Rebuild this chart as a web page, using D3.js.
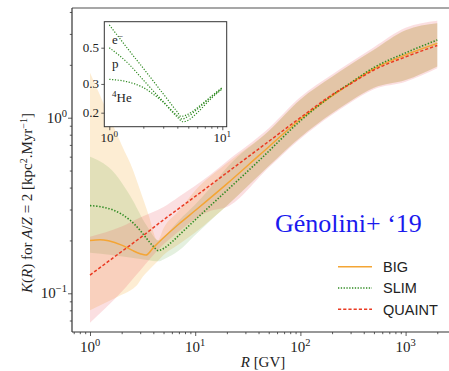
<!DOCTYPE html>
<html><head><meta charset="utf-8">
<script src="https://cdn.jsdelivr.net/npm/d3@7"></script>
<style>
html,body{margin:0;padding:0;background:#fff;}
svg{display:block;}
</style></head><body>
<svg id="chart" width="449" height="371"></svg>
<script>
// ---- Diffusion coefficient K(R) for A/Z = 2, three propagation setups ----
const bigR   = [1, 1.25, 1.5, 2, 2.5, 3, 3.4, 4, 5, 7, 10, 20, 41, 100, 200, 300, 500, 1000, 2000];
const bigK   = [0.200, 0.202, 0.199, 0.188, 0.176, 0.168, 0.165, 0.182, 0.207, 0.248, 0.296, 0.42, 0.614, 0.98, 1.33, 1.57, 1.9, 2.28, 2.65];

const slimR  = [1, 1.3, 1.66, 2, 2.4, 3, 3.5, 4, 4.46, 5, 6, 7, 10, 14, 20, 41, 100, 200, 300, 500, 1000, 2000];
const slimK  = [0.316, 0.31, 0.298, 0.282, 0.261, 0.228, 0.203, 0.185, 0.175, 0.18, 0.196, 0.214, 0.262, 0.316, 0.385, 0.574, 0.96, 1.34, 1.58, 1.93, 2.34, 2.77];

const quaintR = [1, 2, 3, 5, 10, 20, 50, 100, 200, 300, 500, 1000, 2000];
const quaintK = [0.127, 0.173, 0.207, 0.262, 0.356, 0.486, 0.733, 1.0, 1.35, 1.56, 1.87, 2.22, 2.58];

// uncertainty bands
const bigBandR  = [1, 1.5, 2, 2.6, 2.75, 3.2, 3.6, 4.4, 5, 7, 10, 20, 50, 100, 200, 300, 500, 1000, 2000];
const bigBandLo = [0.08, 0.09, 0.098, 0.107, 0.11, 0.125, 0.135, 0.152, 0.165, 0.19, 0.222, 0.315, 0.53, 0.775, 1.06, 1.245, 1.48, 1.64, 1.96];
const bigBandHi = [1.80, 1.04, 0.70, 0.493, 0.447, 0.344, 0.28, 0.2, 0.235, 0.295, 0.385, 0.55, 0.84, 1.27, 1.71, 2.01, 2.44, 3.15, 3.45];

const slimBandR  = [1, 1.6, 2.4, 3.5, 4.5, 5, 7, 10, 14, 20, 50, 100, 200, 300, 500, 1000, 2000];
const slimBandLo = [0.17, 0.165, 0.16, 0.155, 0.152, 0.156, 0.175, 0.215, 0.26, 0.315, 0.53, 0.775, 1.06, 1.245, 1.48, 1.64, 1.96];
const slimBandHi = [0.60, 0.505, 0.36, 0.24, 0.2, 0.21, 0.26, 0.32, 0.40, 0.52, 0.84, 1.27, 1.71, 2.01, 2.44, 3.15, 3.45];

const quaintBandR  = [1, 2, 3, 5, 7, 10, 14, 20, 50, 100, 200, 300, 500, 1000, 2000];
const quaintBandLo = [0.068, 0.102, 0.135, 0.19, 0.225, 0.265, 0.295, 0.31, 0.52, 0.76, 1.04, 1.22, 1.45, 1.6, 1.91];
const quaintBandHi = [0.21, 0.24, 0.27, 0.31, 0.355, 0.41, 0.475, 0.565, 0.87, 1.31, 1.76, 2.07, 2.52, 3.25, 3.57];

// inset: SLIM for different species
const insetER  = [1, 1.5, 2, 3, 4, 4.3, 5, 6, 8, 10];
const insetEK  = [0.69, 0.48, 0.374, 0.261, 0.202, 0.19, 0.196, 0.214, 0.252, 0.285];
const insetPR  = [1, 1.5, 2, 3, 4, 4.4, 5, 6, 8, 10];
const insetPK  = [0.50, 0.395, 0.317, 0.234, 0.192, 0.183, 0.19, 0.21, 0.25, 0.283];
const insetHeR = [1, 1.42, 2, 2.5, 3, 3.5, 4, 4.5, 5, 6, 8, 10];
const insetHeK = [0.32, 0.31, 0.285, 0.257, 0.232, 0.207, 0.188, 0.176, 0.18, 0.2, 0.245, 0.28];

const xMajor = [1, 10, 100, 1000];
const xMajorExp = ["0", "1", "2", "3"];
const yMajor = [0.1, 1];
const yMajorExp = ["\u22121", "0"];
const insetYTicks = [0.2, 0.3, 0.5];
const insetXMajor = [1, 10];
const insetXMajorExp = ["0", "1"];

const legendNames = ["BIG", "SLIM", "QUAINT"];

// ---- styles ----
const colBig = "#f4a534", colSlim = "#2f8a22", colQuaint = "#ea3a22";
const serif = "'Liberation Serif', 'Times New Roman', serif";

const svg = d3.select("#chart");
const area = {left: 72, top: 8, right: 449, bottom: 332};

const x = d3.scaleLog().domain([1, 1000]).range([90, 405.6]);
const y = d3.scaleLog().domain([0.1, 1]).range([293.3, 117.7]);

svg.append("defs").append("clipPath").attr("id", "clip")
  .append("rect").attr("x", area.left).attr("y", area.top)
  .attr("width", area.right - area.left).attr("height", area.bottom - area.top);

const zip3 = (r, lo, hi) => r.map((v, i) => ({r: v, lo: lo[i], hi: hi[i]}));
const zip2 = (r, k) => r.map((v, i) => ({r: v, k: k[i]}));

const band = d3.area().x(d => x(d.r)).y0(d => y(d.lo)).y1(d => y(d.hi)).curve(d3.curveMonotoneX);
const line = d3.line().x(d => x(d.r)).y(d => y(d.k)).curve(d3.curveMonotoneX);

const gp = svg.append("g").attr("clip-path", "url(#clip)");
gp.append("path").attr("d", band(zip3(bigBandR, bigBandLo, bigBandHi)))
  .attr("fill", "#f5a623").attr("fill-opacity", 0.2);
gp.append("path").attr("d", band(zip3(slimBandR, slimBandLo, slimBandHi)))
  .attr("fill", "#4a9a2a").attr("fill-opacity", 0.15);
gp.append("path").attr("d", band(zip3(quaintBandR, quaintBandLo, quaintBandHi)))
  .attr("fill", "#e8505a").attr("fill-opacity", 0.18);

gp.append("path").attr("d", line(zip2(bigR, bigK)))
  .attr("fill", "none").attr("stroke", colBig).attr("stroke-width", 1.5);
gp.append("path").attr("d", line(zip2(slimR, slimK)))
  .attr("fill", "none").attr("stroke", colSlim).attr("stroke-width", 1.6)
  .attr("stroke-dasharray", "1.4,1.7");
gp.append("path").attr("d", line(zip2(quaintR, quaintK)))
  .attr("fill", "none").attr("stroke", colQuaint).attr("stroke-width", 1.5)
  .attr("stroke-dasharray", "3.2,2");

// ---- axes ----
function minorTicks(lo, hi) {
  const out = [];
  for (let e = Math.floor(Math.log10(lo)); e <= Math.ceil(Math.log10(hi)); e++) {
    for (let m = 1; m < 10; m++) {
      const v = m * Math.pow(10, e);
      if (v >= lo && v <= hi) out.push(v);
    }
  }
  return out;
}
const xDom = [x.invert(area.left), x.invert(area.right)];
const yDom = [y.invert(area.bottom), y.invert(area.top)];

const xMinor = minorTicks(xDom[0], xDom[1]).filter(v => !xMajor.includes(v));
const yMinor = minorTicks(yDom[0], yDom[1]).filter(v => !yMajor.some(m => Math.abs(m - v) < 1e-9));

const xScaleFull = x.copy().domain(xDom).range([area.left, area.right]);
const yScaleFull = y.copy().domain(yDom).range([area.bottom, area.top]);

function styleAxis(g) {
  g.select(".domain").remove();
  g.selectAll(".tick line").attr("stroke", "#333").attr("stroke-width", 0.8);
}
svg.append("g").attr("transform", `translate(0,${area.bottom})`)
  .call(d3.axisBottom(xScaleFull).tickValues(xMajor).tickSize(4).tickFormat(() => "")).call(styleAxis);
svg.append("g").attr("transform", `translate(0,${area.bottom})`)
  .call(d3.axisBottom(xScaleFull).tickValues(xMinor).tickSize(2.2).tickFormat(() => "")).call(styleAxis);
svg.append("g").attr("transform", `translate(${area.left},0)`)
  .call(d3.axisLeft(yScaleFull).tickValues(yMajor).tickSize(4).tickFormat(() => "")).call(styleAxis);
svg.append("g").attr("transform", `translate(${area.left},0)`)
  .call(d3.axisLeft(yScaleFull).tickValues(yMinor).tickSize(2.2).tickFormat(() => "")).call(styleAxis);

// spines
svg.append("line").attr("x1", area.left).attr("x2", area.right).attr("y1", area.top).attr("y2", area.top)
  .attr("stroke", "#8a8a8a").attr("stroke-width", 1.3);
svg.append("line").attr("x1", area.left).attr("x2", area.left).attr("y1", area.top).attr("y2", area.bottom)
  .attr("stroke", "#333").attr("stroke-width", 1.2);
svg.append("line").attr("x1", area.left).attr("x2", area.right).attr("y1", area.bottom).attr("y2", area.bottom)
  .attr("stroke", "#333").attr("stroke-width", 1.2);

// power-of-ten labels
function powLabel(sel, exp, size) {
  sel.append("tspan").text("10");
  sel.append("tspan").attr("dy", -size * 0.4).attr("font-size", size * 0.7).text(exp);
}
xMajor.forEach((v, i) => {
  const t = svg.append("text").attr("x", x(v)).attr("y", 352).attr("text-anchor", "middle")
    .attr("font-family", serif).attr("font-size", 15).attr("fill", "#222");
  powLabel(t, xMajorExp[i], 15);
});
yMajor.forEach((v, i) => {
  const t = svg.append("text").attr("x", 67).attr("y", y(v) + 5).attr("text-anchor", "end")
    .attr("font-family", serif).attr("font-size", 15).attr("fill", "#222");
  powLabel(t, yMajorExp[i], 15);
});

// axis titles
const xl = svg.append("text").attr("x", 263).attr("y", 367).attr("text-anchor", "middle")
  .attr("font-family", serif).attr("font-size", 15).attr("fill", "#222");
xl.append("tspan").attr("font-style", "italic").text("R");
xl.append("tspan").text(" [GV]");

const yl = svg.append("text").attr("transform", "translate(32,203) rotate(-90)")
  .attr("text-anchor", "middle").attr("font-family", serif).attr("font-size", 15).attr("fill", "#222");
yl.append("tspan").attr("font-style", "italic").text("K");
yl.append("tspan").text("(");
yl.append("tspan").attr("font-style", "italic").text("R");
yl.append("tspan").text(") for ");
yl.append("tspan").attr("font-style", "italic").text("A");
yl.append("tspan").text("/");
yl.append("tspan").attr("font-style", "italic").text("Z");
yl.append("tspan").text(" = 2 [kpc");
yl.append("tspan").attr("dy", -5).attr("font-size", 10).text("2");
yl.append("tspan").attr("dy", 5).text(".Myr");
yl.append("tspan").attr("dy", -5).attr("font-size", 10).text("\u22121");
yl.append("tspan").attr("dy", 5).text("]");

// annotation
svg.append("text").attr("x", 275).attr("y", 232).attr("font-family", serif)
  .attr("font-size", 26).attr("fill", "#1a1aee").text("Génolini+ \u201819");

// legend
const legStyles = [
  {c: colBig, dash: null, w: 1.5},
  {c: colSlim, dash: "1.3,1.5", w: 1.4},
  {c: colQuaint, dash: "3.2,2", w: 1.5}
];
const legY = [266.7, 288, 309.3];
legendNames.forEach((n, i) => {
  const s = legStyles[i];
  const l = svg.append("line").attr("x1", 338).attr("x2", 372).attr("y1", legY[i]).attr("y2", legY[i])
    .attr("stroke", s.c).attr("stroke-width", s.w);
  if (s.dash) l.attr("stroke-dasharray", s.dash);
  svg.append("text").attr("x", 383).attr("y", legY[i] + 5.2)
    .attr("font-family", "'Liberation Sans', Arial, sans-serif").attr("font-size", 14.5)
    .attr("fill", "#222").text(n);
});

// ---- inset ----
const ins = {left: 104.3, right: 226.7, top: 21.7, bottom: 126.7};
const xi = d3.scaleLog().domain([1, 10]).range([109.3, 222.3]);
const yi = d3.scaleLog().domain([0.2, 0.5]).range([112.7, 47.7]);
const gi = svg.append("g");
gi.append("rect").attr("x", ins.left).attr("y", ins.top).attr("width", ins.right - ins.left)
  .attr("height", ins.bottom - ins.top).attr("fill", "#fff");
svg.append("defs").append("clipPath").attr("id", "clipi")
  .append("rect").attr("x", ins.left).attr("y", ins.top).attr("width", ins.right - ins.left)
  .attr("height", ins.bottom - ins.top);
const lineI = d3.line().x(d => xi(d.r)).y(d => yi(d.k)).curve(d3.curveMonotoneX);
const gic = gi.append("g").attr("clip-path", "url(#clipi)");
[[insetER, insetEK], [insetPR, insetPK], [insetHeR, insetHeK]].forEach(([r, k]) => {
  gic.append("path").attr("d", lineI(zip2(r, k))).attr("fill", "none")
    .attr("stroke", colSlim).attr("stroke-width", 1.2).attr("stroke-dasharray", "1.2,1.6");
});
gi.append("rect").attr("x", ins.left).attr("y", ins.top).attr("width", ins.right - ins.left)
  .attr("height", ins.bottom - ins.top).attr("fill", "none").attr("stroke", "#333").attr("stroke-width", 1);

const xiFull = xi.copy().domain([xi.invert(ins.left), xi.invert(ins.right)]).range([ins.left, ins.right]);
const xiMinor = minorTicks(xi.invert(ins.left), xi.invert(ins.right)).filter(v => !insetXMajor.includes(v));
gi.append("g").attr("transform", `translate(0,${ins.bottom})`)
  .call(d3.axisBottom(xiFull).tickValues(insetXMajor).tickSize(3.5).tickFormat(() => "")).call(styleAxis);
gi.append("g").attr("transform", `translate(0,${ins.bottom})`)
  .call(d3.axisBottom(xiFull).tickValues(xiMinor).tickSize(2).tickFormat(() => "")).call(styleAxis);
const yiFull = yi.copy().domain([yi.invert(ins.bottom), yi.invert(ins.top)]).range([ins.bottom, ins.top]);
gi.append("g").attr("transform", `translate(${ins.left},0)`)
  .call(d3.axisLeft(yiFull).tickValues(insetYTicks).tickSize(3).tickFormat(() => "")).call(styleAxis);

insetYTicks.forEach(v => {
  gi.append("text").attr("x", 99).attr("y", yi(v) + 4.5).attr("text-anchor", "end")
    .attr("font-family", serif).attr("font-size", 13).attr("fill", "#222").text(String(v));
});
insetXMajor.forEach((v, i) => {
  const t = gi.append("text").attr("x", xi(v)).attr("y", 142).attr("text-anchor", "middle")
    .attr("font-family", serif).attr("font-size", 13).attr("fill", "#222");
  powLabel(t, insetXMajorExp[i], 13);
});

// species labels
const te = gi.append("text").attr("x", 112).attr("y", 43.5).attr("font-family", serif)
  .attr("font-size", 13).attr("fill", "#222");
te.append("tspan").text("e");
te.append("tspan").attr("dy", -5).attr("font-size", 9).text("\u2212");
gi.append("text").attr("x", 112).attr("y", 68).attr("font-family", serif)
  .attr("font-size", 13).attr("fill", "#222").text("p");
const th = gi.append("text").attr("x", 112).attr("y", 101.5).attr("font-family", serif)
  .attr("font-size", 13).attr("fill", "#222");
th.append("tspan").attr("dy", -5).attr("font-size", 9).text("4");
th.append("tspan").attr("dy", 5).text("He");
</script>
</body></html>
